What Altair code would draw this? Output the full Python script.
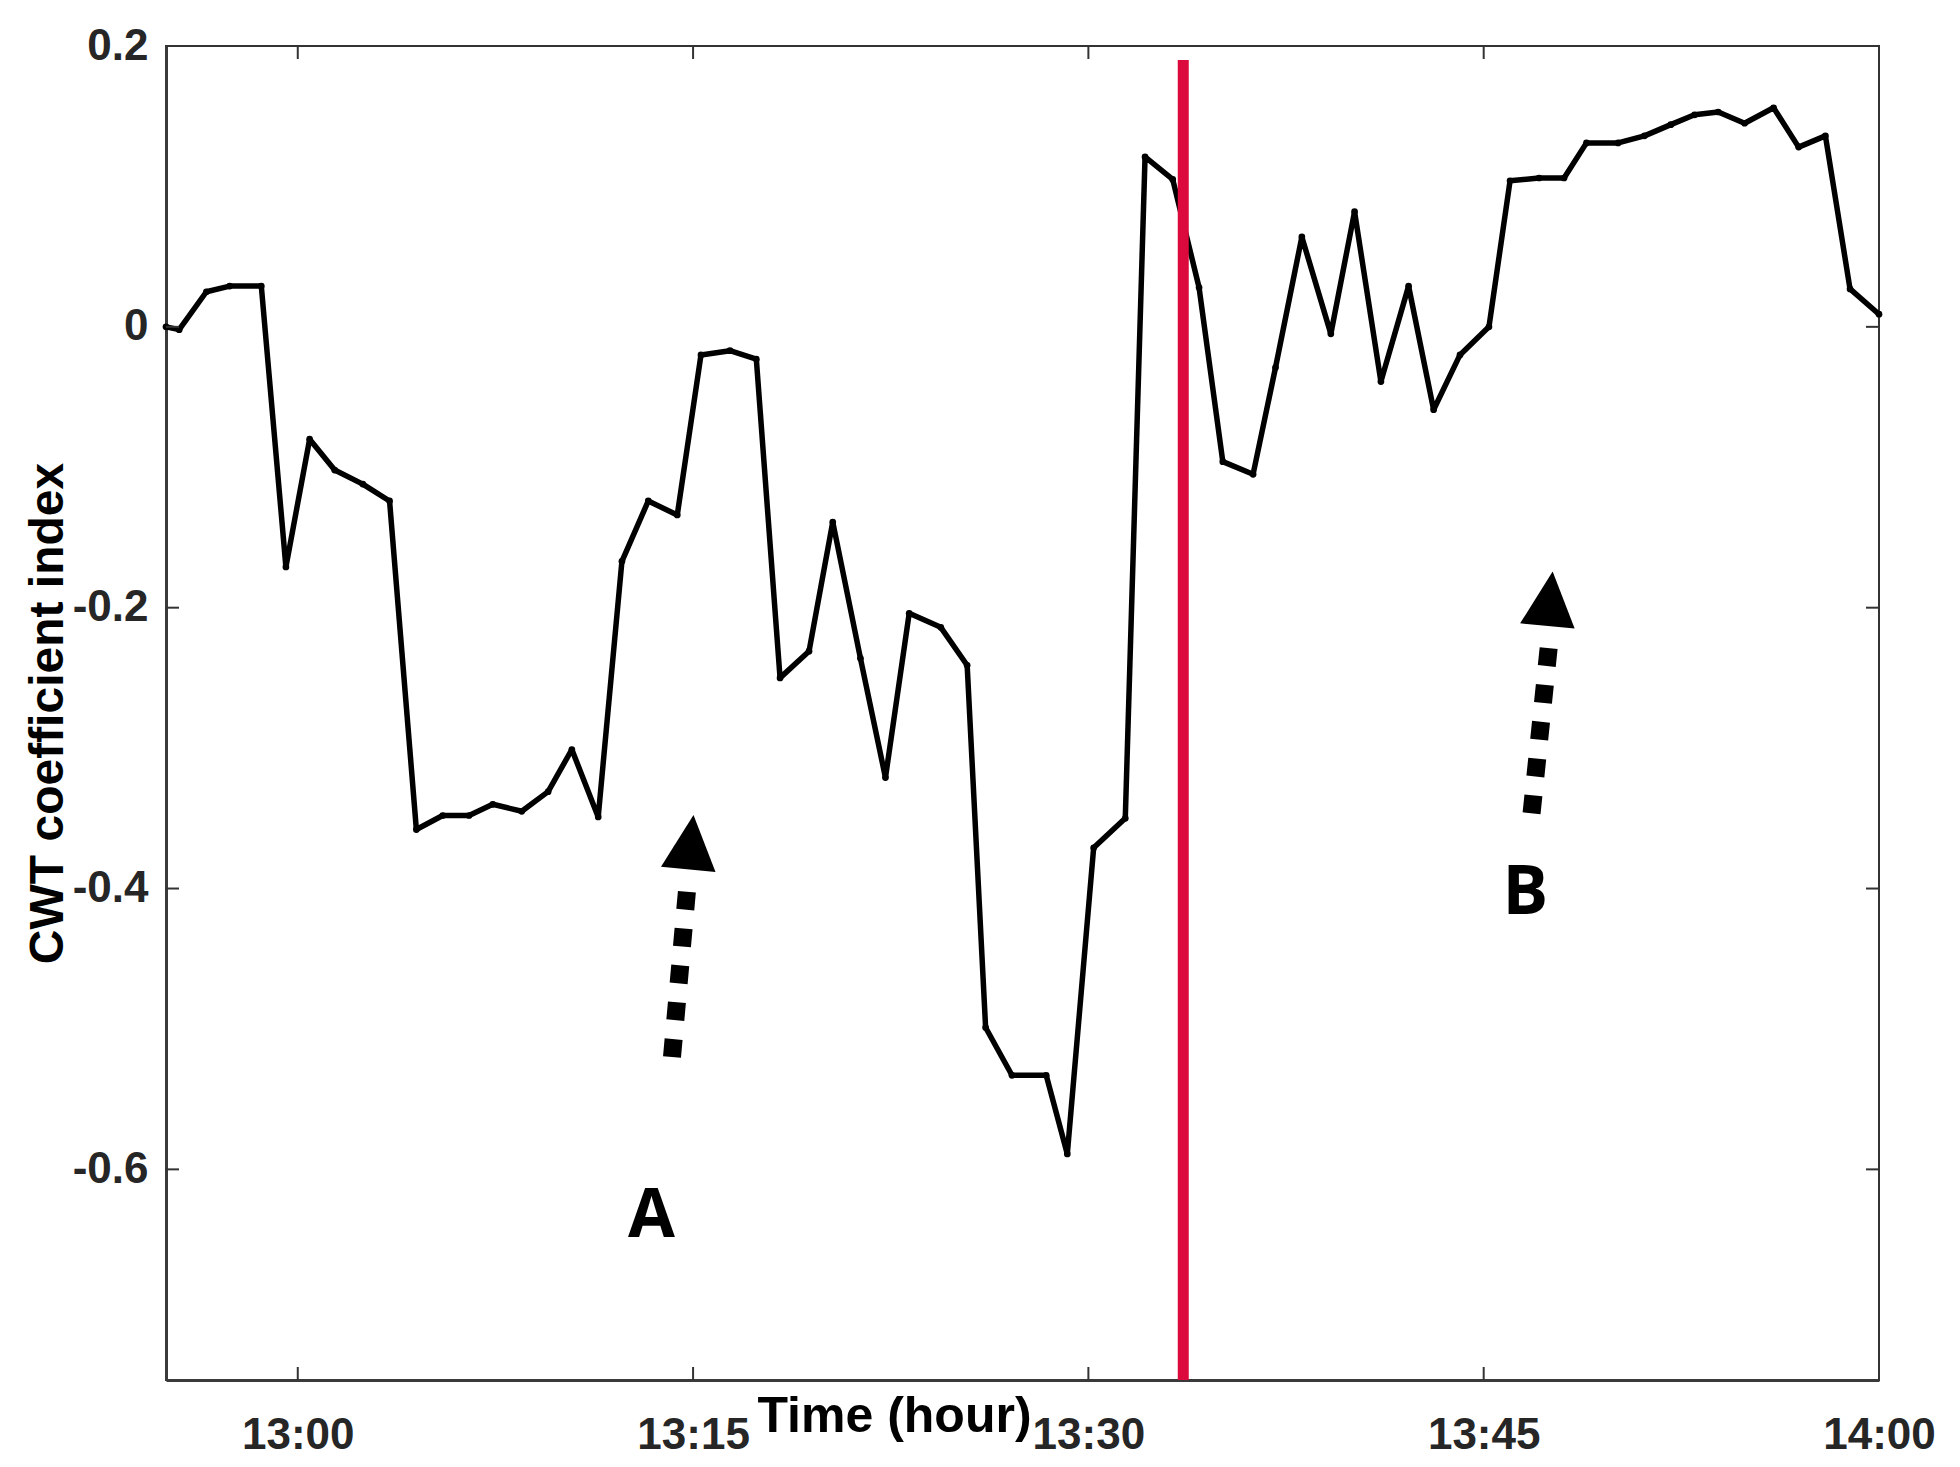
import altair as alt
import pandas as pd

# ---- data (minutes after 12:55, CWT index) ----
minutes = [0.0, 0.5, 1.54, 2.42, 3.62, 4.55, 5.45, 6.4, 7.47, 8.48, 9.5, 10.5, 11.5,
           12.4, 13.5, 14.5, 15.4, 16.4, 17.3, 18.3, 19.4, 20.3, 21.4, 22.4, 23.3,
           24.4, 25.3, 26.35, 27.3, 28.2, 29.4, 30.4, 31.1, 32.1, 33.4, 34.2, 35.2,
           36.4, 37.15, 38.2, 39.2, 40.1, 41.25, 42.1, 43.1, 44.2, 45.1, 46.1, 47.15,
           48.1, 49.1, 50.2, 51.0, 52.1, 53.05, 53.9, 55.1, 56.1, 57.1, 58.0, 58.9,
           59.9, 61.0, 61.95, 62.96, 63.9, 65.0]
cwt = [0.0, -0.002, 0.025, 0.029, 0.029, -0.171, -0.080, -0.102, -0.112, -0.124, -0.358,
       -0.348, -0.348, -0.340, -0.345, -0.331, -0.301, -0.349, -0.167, -0.124, -0.134,
       -0.020, -0.017, -0.023, -0.250, -0.231, -0.139, -0.236, -0.321, -0.204, -0.214,
       -0.241, -0.499, -0.533, -0.533, -0.589, -0.371, -0.350, 0.121, 0.105, 0.028,
       -0.096, -0.105, -0.029, 0.064, -0.005, 0.082, -0.039, 0.029, -0.059, -0.020,
       0.000, 0.104, 0.106, 0.106, 0.131, 0.131, 0.136, 0.144, 0.151, 0.153, 0.145,
       0.156, 0.128, 0.136, 0.027, 0.009]

x_tick_minutes = [5, 20, 35, 50, 65]
x_tick_labels = ["13:00", "13:15", "13:30", "13:45", "14:00"]
y_ticks = [0.2, 0, -0.2, -0.4, -0.6]
y_domain = [-0.75, 0.2]
event_minute = 38.6
event_top = 0.19

# annotation arrows: tail, shaft end, head centre (minutes, value)
arrow_tail_min = [19.20, 51.82]
arrow_tail_val = [-0.520, -0.3464]
arrow_end_min = [19.77, 52.46]
arrow_end_val = [-0.402, -0.2284]
head_min = [19.92, 52.52]
head_val = [-0.367, -0.1936]
label_text = ["A", "B"]
label_min = [18.41, 51.59]
label_val = [-0.634, -0.404]

BASE = pd.Timestamp("2020-01-01 12:55:00")


def ts(m):
    return (BASE + pd.to_timedelta(round(m * 60), unit="s")).strftime("%Y-%m-%dT%H:%M:%S")


def dt(m):
    t = BASE + pd.to_timedelta(round(m * 60), unit="s")
    return alt.DateTime(year=2020, month=1, date=1, hours=t.hour, minutes=t.minute,
                        seconds=t.second)


W, H = 1713, 1334
TICK = 13

line_df = pd.DataFrame({"time": [ts(m) for m in minutes], "value": cwt})
xscale = alt.Scale(domain=[dt(0), dt(65)])
yscale = alt.Scale(domain=y_domain, nice=False, zero=False)

x_axis = alt.Axis(values=[dt(m) for m in x_tick_minutes], format="%H:%M",
                  title="Time (hour)", titleX=728, titleY=51, titleBaseline="alphabetic",
                  labelBaseline="alphabetic", labelPadding=68, labelFontSize=44,
                  titleFontSize=50, ticks=False, tickSize=0, labelFlush=False)
y_axis = alt.Axis(values=y_ticks, labelExpr="'' + datum.value", title="CWT coefficient index",
                  titleX=-118, titleBaseline="middle", labelPadding=18, labelFontSize=44,
                  titleFontSize=48, ticks=False, tickSize=0)

line = alt.Chart(line_df).mark_line(
    color="black", strokeWidth=5.5, strokeJoin="round",
    point=alt.OverlayMarkDef(filled=True, color="black", size=45)
).encode(
    x=alt.X("time:T", scale=xscale, axis=x_axis),
    y=alt.Y("value:Q", scale=yscale, axis=y_axis),
)

event_df = pd.DataFrame({"time": [ts(event_minute)], "top": [event_top], "bottom": [y_domain[0]]})
event = alt.Chart(event_df).mark_rule(color="#DC0A3C", strokeWidth=11).encode(
    x=alt.X("time:T", scale=xscale), y=alt.Y("top:Q", scale=yscale), y2="bottom:Q"
)

xt_df = pd.DataFrame({"time": [ts(m) for m in x_tick_minutes]})
yt_df = pd.DataFrame({"value": y_ticks})
tick_color = "#333333"
xt_bottom = alt.Chart(xt_df).mark_rule(color=tick_color, strokeWidth=2).encode(
    x=alt.X("time:T", scale=xscale), y=alt.value(H), y2=alt.value(H - TICK))
xt_top = alt.Chart(xt_df).mark_rule(color=tick_color, strokeWidth=2).encode(
    x=alt.X("time:T", scale=xscale), y=alt.value(0), y2=alt.value(TICK))
yt_left = alt.Chart(yt_df).mark_rule(color=tick_color, strokeWidth=2).encode(
    y=alt.Y("value:Q", scale=yscale), x=alt.value(0), x2=alt.value(TICK))
yt_right = alt.Chart(yt_df).mark_rule(color=tick_color, strokeWidth=2).encode(
    y=alt.Y("value:Q", scale=yscale), x=alt.value(W), x2=alt.value(W - TICK))

arrow_df = pd.DataFrame({
    "t0": [ts(m) for m in arrow_tail_min], "v0": arrow_tail_val,
    "t1": [ts(m) for m in arrow_end_min], "v1": arrow_end_val,
})
shafts = alt.Chart(arrow_df).mark_rule(color="black", strokeWidth=18, strokeDash=[18, 19],
                                       strokeCap="butt").encode(
    x=alt.X("t0:T", scale=xscale), y=alt.Y("v0:Q", scale=yscale), x2="t1:T", y2="v1:Q")

head_df = pd.DataFrame({"time": [ts(m) for m in head_min], "value": head_val})
heads = alt.Chart(head_df).mark_point(shape="M0,-1L1,1L-1,1Z", filled=True, color="black",
                                      opacity=1, size=3000, angle=5.5, strokeWidth=0).encode(
    x=alt.X("time:T", scale=xscale), y=alt.Y("value:Q", scale=yscale))

lab_df = pd.DataFrame({"time": [ts(m) for m in label_min], "value": label_val, "text": label_text})
labels = alt.Chart(lab_df).mark_text(font="Open Sans", fontWeight="bold", fontSize=68,
                                     color="black", baseline="middle", align="center").encode(
    x=alt.X("time:T", scale=xscale), y=alt.Y("value:Q", scale=yscale), text="text:N")

chart = alt.layer(line, event, xt_bottom, xt_top, yt_left, yt_right, shafts, heads, labels).properties(
    width=W, height=H,
    padding={"left": 158, "top": 38, "right": 70, "bottom": 79},
    autosize=alt.AutoSizeParams(type="none"),
).configure_view(
    stroke="#333333", strokeWidth=2
).configure_axis(
    grid=False, domainColor="#3a3a3a", domainWidth=3,
    labelFont="Liberation Sans", labelFontWeight="bold", labelColor="#262626",
    titleFont="Liberation Sans", titleFontWeight="bold", titleColor="black",
)

chart.save("out.html", embed_options={"renderer": "svg", "actions": False})
